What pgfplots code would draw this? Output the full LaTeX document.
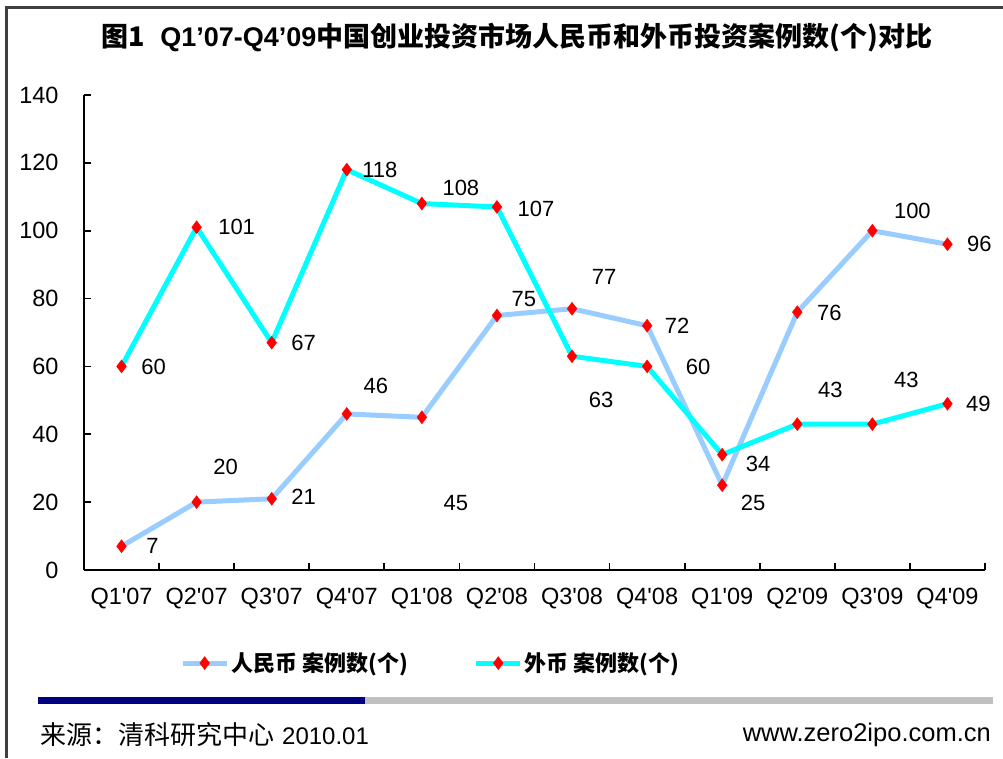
\documentclass[border=0pt]{standalone}
\usepackage{pgfplots}
\pgfplotsset{compat=1.18}
\usepackage{pgfplotstable}
\usepackage{fontspec}
\setmainfont{Liberation Sans}[Ligatures=TeXOff]
\newfontfamily\cjk{Noto Sans CJK SC}
\definecolor{rmb}{HTML}{99CCFF}
\definecolor{wb}{HTML}{00FFFF}
\definecolor{navybar}{HTML}{000080}
\definecolor{graybar}{HTML}{C0C0C0}
\definecolor{framec}{HTML}{404040}

\pgfplotstableread{
x y dx dy
0 7 31 0
1 20 29 35
2 21 32 2
3 46 29 28
4 45 34 -86
5 75 27 16
6 77 32 32
7 72 30 0
8 25 31 -18
9 76 32 -1
10 100 40 20
11 96 32 0
}\rmbdata
\pgfplotstableread{
x y dx dy
0 60 32 0
1 101 40 0
2 67 32 0
3 118 33 0
4 108 39 16
5 107 39 -2
6 63 29 -44
7 60 51 0
8 34 36 -9
9 43 33 34
10 43 34 44
11 49 31 0
}\wbdata

\begin{document}
\begin{tikzpicture}
\path[use as bounding box] (0pt,0pt) rectangle (1003pt,758pt);
\fill[white] (0pt,0pt) rectangle (1003pt,758pt);
\begin{axis}[
  at={(84pt,188pt)}, anchor=south west,
  scale only axis, width=901pt, height=475pt,
  xmin=-0.5, xmax=11.5, ymin=0, ymax=140,
  axis x line*=bottom, axis y line*=left,
  axis line style={-, line width=1.8pt, black},
  clip=false,
  /pgf/number format/assume math mode=true,
  xtick={0,...,11},
  xticklabels={Q1'07,Q2'07,Q3'07,Q4'07,Q1'08,Q2'08,Q3'08,Q4'08,Q1'09,Q2'09,Q3'09,Q4'09},
  minor xtick={-0.5,0.5,...,11.5},
  ytick={0,20,...,140},
  tick align=inside,
  major tick length=7pt, minor tick length=7pt,
  tick style={line width=1.8pt, black},
  major x tick style={draw=none},
  tick label style={font=\fontsize{23.5}{27}\selectfont, text=black},
  yticklabel style={xshift=-22pt},
  xticklabel style={yshift=-15pt},
  legend style={at={(0.1065,-0.196)}, anchor=west, draw=none, fill=none,
    inner sep=0pt, legend columns=2,
    /tikz/every even column/.append style={column sep=64pt},
    font=\cjk\bfseries\fontsize{22}{26}\selectfont, cells={anchor=west}},
  legend image code/.code={\draw[mark repeat=2,mark phase=2,#1] plot coordinates {(0pt,0pt) (22pt,0pt) (44pt,0pt)};},
]
\addplot[color=rmb, line width=5pt, mark=diamond*, mark size=6.5pt,
  mark options={fill=red, draw=red, line width=0.4pt},
  visualization depends on={\thisrow{dx} \as \ldx},
  visualization depends on={\thisrow{dy} \as \ldy},
  nodes near coords,
  nodes near coords style={anchor=center, xshift=\ldx pt, yshift=\ldy pt,
    font=\fontsize{22}{26}\selectfont, text=black}]
  table[x=x,y=y] {\rmbdata};
\addlegendentry{人民币 案例数(个)}
\addplot[color=wb, line width=5pt, mark=diamond*, mark size=6.5pt,
  mark options={fill=red, draw=red, line width=0.4pt},
  visualization depends on={\thisrow{dx} \as \ldx},
  visualization depends on={\thisrow{dy} \as \ldy},
  nodes near coords,
  nodes near coords style={anchor=center, xshift=\ldx pt, yshift=\ldy pt,
    font=\fontsize{22}{26}\selectfont, text=black}]
  table[x=x,y=y] {\wbdata};
\addlegendentry{外币 案例数(个)}
\end{axis}
\node at (517pt,720pt) {\fontsize{27}{31}\selectfont\bfseries{\cjk 图1}\ \ Q1’07-Q4’09{\cjk 中国创业投资市场人民币和外币投资案例数(个)对比}};
\draw[framec, line width=2.5pt] (6.5pt,0pt) -- (6.5pt,750.5pt) -- (1003pt,750.5pt);
\fill[navybar] (38pt,54pt) rectangle (365pt,61pt);
\fill[graybar] (365pt,54pt) rectangle (993pt,61pt);
\node[anchor=west, inner sep=0pt] at (40pt,23pt) {{\cjk\fontsize{26}{30}\selectfont 来源：清科研究中心}\hspace{8pt}{\fontsize{24}{28}\selectfont 2010.01}};
\node[anchor=east, inner sep=0pt] at (991pt,23pt) {\fontsize{25.5}{30}\selectfont www.zero2ipo.com.cn};
\end{tikzpicture}
\end{document}
